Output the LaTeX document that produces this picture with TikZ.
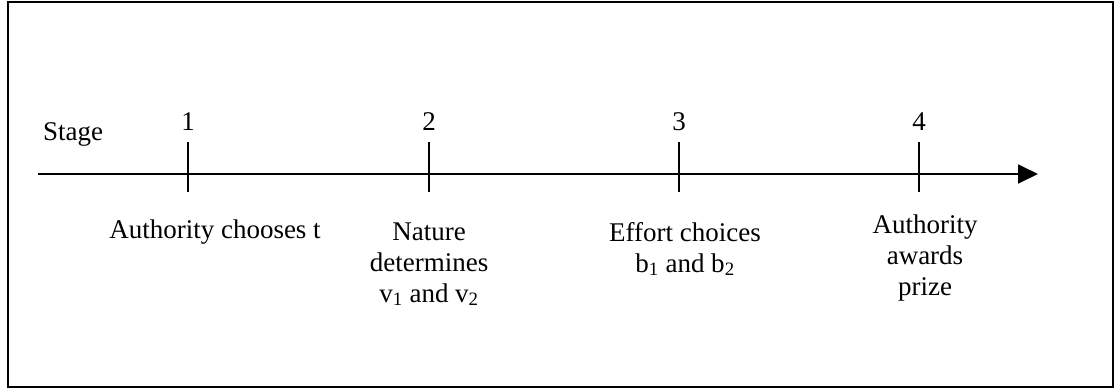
\documentclass[tikz,border=0pt]{standalone}
\usepackage{fontspec}
\setmainfont{Liberation Serif}
\usepackage{tikz}
\usetikzlibrary{arrows.meta}

\begin{document}
\begin{tikzpicture}[x=1pt,y=-1pt,>={Triangle[length=20pt,width=19pt]},
  font=\fontsize{27}{31}\selectfont,line cap=butt,
  stagetick/.style={line width=1.8pt},
  stagelbl/.style={anchor=base,inner sep=0pt},
  eventlbl/.style={anchor=base,inner sep=0pt,align=center}]
\useasboundingbox (0,0) rectangle (1116,389);
\draw[line width=1.3pt] (8,2) rectangle (1113,387);
% time line
\coordinate (start) at (38,174);
\coordinate (stop) at (1038,174);
\draw[->,line width=1.8pt] (start) -- (stop);
\draw[stagetick] (188,142) -- (188,192);
\draw[stagetick] (429,142) -- (429,192);
\draw[stagetick] (679,142) -- (679,192);
\draw[stagetick] (919,142) -- (919,192);
\node[stagelbl,anchor=base west] (stage) at (43,140) {Stage};
\node[stagelbl] (s1) at (188,130) {1};
\node[stagelbl] (s2) at (429,130) {2};
\node[stagelbl] (s3) at (679,130) {3};
\node[stagelbl] (s4) at (919,130) {4};
% what happens at each stage (base = last line)
\node[eventlbl] (e1) at (215,238) {Authority chooses t};
\node[eventlbl] (e2) at (429,302) {Nature\\determines\\v\textsubscript{1} and v\textsubscript{2}};
\node[eventlbl] (e3) at (685,272) {Effort choices\\b\textsubscript{1} and b\textsubscript{2}};
\node[eventlbl] (e4) at (925,295) {Authority\\awards\\prize};
\end{tikzpicture}
\end{document}
